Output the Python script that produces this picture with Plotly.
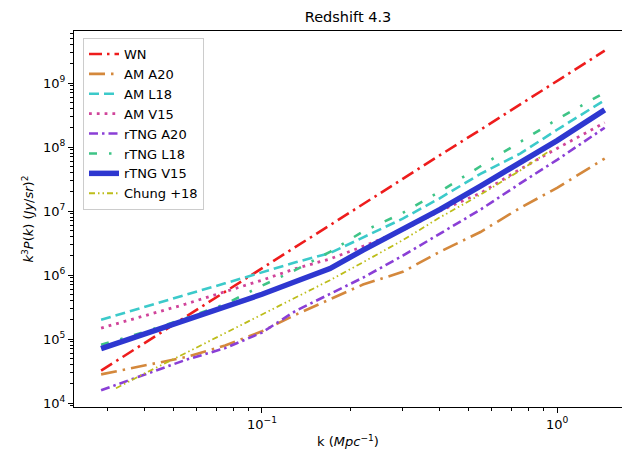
import plotly.graph_objects as go

# ---- data ----
k_main = [0.0285, 0.04, 0.055, 0.075, 0.1, 0.13, 0.17, 0.22, 0.3, 0.4, 0.55, 0.75, 1.0, 1.45]
k_chung = [0.032, 0.04, 0.055, 0.075, 0.1, 0.13, 0.17, 0.22, 0.3, 0.4, 0.55, 0.75, 0.95]

wn = [3.2e4, 8.7e4, 2.2e5, 5.5e5, 1.26e6, 2.75e6, 6.0e6, 1.29e7, 3.2e7, 7.4e7, 1.86e8, 4.6e8, 1.07e9, 3.2e9]
am_a20 = [2.8e4, 3.8e4, 5.2e4, 7.9e4, 1.32e5, 2.4e5, 4.2e5, 7.1e5, 1.12e6, 2.3e6, 4.7e6, 1.12e7, 2.3e7, 6.6e7]
am_l18 = [2.0e5, 3.2e5, 4.9e5, 7.4e5, 1.1e6, 1.58e6, 2.2e6, 3.9e6, 7.6e6, 1.58e7, 3.8e7, 7.9e7, 1.86e8, 5.4e8]
am_v15 = [1.48e5, 2.3e5, 3.5e5, 5.5e5, 8.3e5, 1.26e6, 1.78e6, 2.8e6, 5.0e6, 1.0e7, 1.9e7, 4.5e7, 9.5e7, 2.4e8]
rtng_a20 = [1.58e4, 2.8e4, 4.7e4, 7.2e4, 1.26e5, 2.75e5, 5.0e5, 9.1e5, 2.0e6, 4.4e6, 1.05e7, 2.7e7, 6.3e7, 2.0e8]
rtng_l18 = [8.1e4, 1.29e5, 2.1e5, 3.5e5, 6.8e5, 1.2e6, 2.3e6, 4.8e6, 9.3e6, 2.0e7, 5.0e7, 1.2e8, 2.7e8, 7.1e8]
rtng_v15 = [7.1e4, 1.2e5, 1.95e5, 3.2e5, 5.0e5, 7.9e5, 1.26e6, 2.45e6, 5.2e6, 1.05e7, 2.45e7, 5.75e7, 1.26e8, 3.8e8]
chung18 = [1.7e4, 2.9e4, 6.0e4, 1.23e5, 2.4e5, 4.4e5, 8.3e5, 1.58e6, 3.5e6, 7.9e6, 1.8e7, 4.3e7, 8.9e7]

x_tick_vals = [0.1, 1.0]
x_tick_text = ["10<sup>−1</sup>", "10<sup>0</sup>"]
y_tick_vals = [1e4, 1e5, 1e6, 1e7, 1e8, 1e9]
y_tick_text = ["10<sup>4</sup>", "10<sup>5</sup>", "10<sup>6</sup>", "10<sup>7</sup>",
               "10<sup>8</sup>", "10<sup>9</sup>"]

FONT = "DejaVu Sans"

series = [
    ("WN", k_main, wn, "#EE1C1C", 2.6, "13px,5px,2.5px,5px"),
    ("AM A20", k_main, am_a20, "#D4883C", 2.6, "16px,6px,2.5px,6px"),
    ("AM L18", k_main, am_l18, "#3CCACA", 2.6, "10px,5px"),
    ("AM V15", k_main, am_v15, "#D0449A", 2.8, "2.8px,5px"),
    ("rTNG A20", k_main, rtng_a20, "#8A3FD6", 2.6, "9px,4px,2.5px,4px"),
    ("rTNG L18", k_main, rtng_l18, "#3EC486", 2.6, "8px,12px,2.5px,12px"),
    ("rTNG V15", k_main, rtng_v15, "#2E37D0", 5.5, "solid"),
    ("Chung +18", k_chung, chung18, "#BDBD1A", 1.8, "6px,3px,1.5px,3px,1.5px,3px"),
]

fig = go.Figure()
for name, kx, vals, color, w, dash in series:
    fig.add_trace(go.Scatter(
        x=kx, y=vals, mode="lines", name=name,
        line=dict(color=color, width=w, dash=dash),
    ))

# minor tick positions (axis decoration)
x_minor = [m * 10.0 ** e for e in (-2, -1, 0) for m in range(2, 10)]
y_minor = [m * 10.0 ** e for e in range(3, 10) for m in range(2, 10)]

fig.update_layout(
    width=626, height=456, autosize=False,
    margin=dict(l=74, r=4, t=31, b=49),
    paper_bgcolor="white", plot_bgcolor="white",
    font=dict(family=FONT, size=13, color="black"),
    title=dict(text="Redshift 4.3", x=0.5, xref="paper", xanchor="center",
               y=1 - 17 / 456, yref="container", yanchor="middle",
               font=dict(family=FONT, size=14.5, color="black")),
    showlegend=True,
    legend=dict(x=(83 - 74) / 548, y=(407 - 38) / 376, xanchor="left", yanchor="top",
                bgcolor="rgba(255,255,255,0.85)", bordercolor="#cccccc", borderwidth=1,
                font=dict(family=FONT, size=13, color="black")),
)

fig.update_xaxes(
    type="log", range=[-1.637, 0.220],
    showgrid=False, zeroline=False,
    showline=True, linecolor="black", linewidth=1, mirror=True,
    ticks="outside", ticklen=5, tickwidth=1, tickcolor="black",
    tickmode="array", tickvals=x_tick_vals, ticktext=x_tick_text,
    tickfont=dict(family=FONT, size=13, color="black"),
    minor=dict(ticks="outside", ticklen=3, tickwidth=1, tickcolor="black",
               tickmode="array", tickvals=x_minor, showgrid=False),
    title=dict(text="k (<i>Mpc</i><sup>−1</sup>)", standoff=6,
               font=dict(family=FONT, size=13, color="black")),
)
fig.update_yaxes(
    type="log", range=[3.9375, 9.8125],
    showgrid=False, zeroline=False,
    showline=True, linecolor="black", linewidth=1, mirror=False,
    ticks="outside", ticklen=5, tickwidth=1, tickcolor="black",
    tickmode="array", tickvals=y_tick_vals, ticktext=y_tick_text,
    tickfont=dict(family=FONT, size=13, color="black"),
    minor=dict(ticks="outside", ticklen=3, tickwidth=1, tickcolor="black",
               tickmode="array", tickvals=y_minor, showgrid=False),
    title=dict(text="<i>k</i><sup>3</sup><i>P</i>(<i>k</i>) (<i>Jy</i>/<i>sr</i>)<sup>2</sup>",
               standoff=6, font=dict(family=FONT, size=13, color="black")),
)

fig.write_html("out.html")
